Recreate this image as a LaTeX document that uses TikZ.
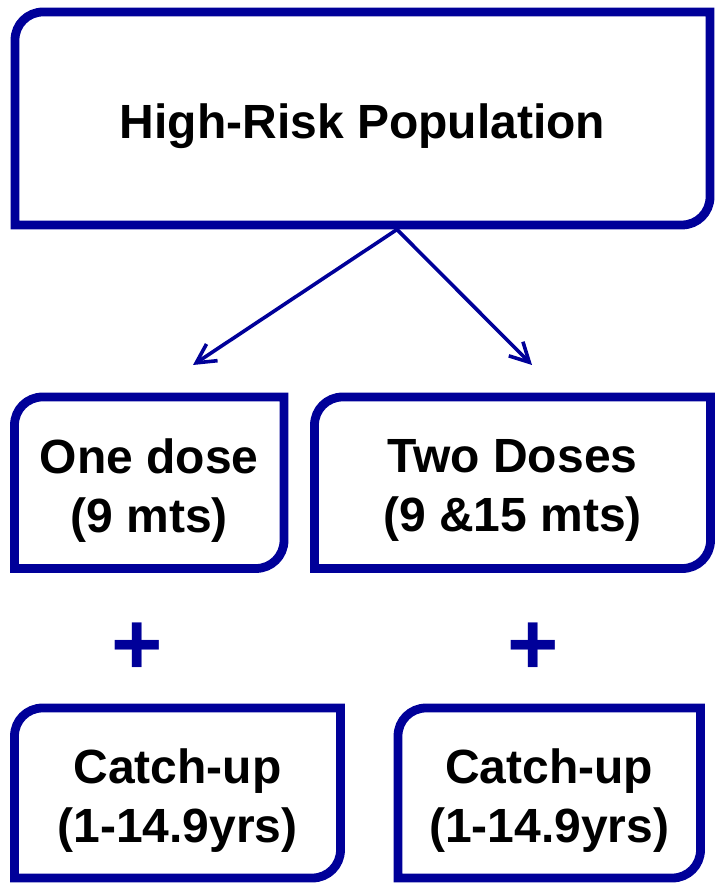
\documentclass[tikz,border=0pt]{standalone}
\usepackage{fontspec}
\setmainfont{Liberation Sans}
\usetikzlibrary{arrows.meta,positioning}
\definecolor{navy}{RGB}{0,0,153}
\newcommand\cornerbox[2]{%
  \draw[boxline] (#1.south west) -- ([yshift=-#2]#1.north west)
    arc[start angle=180,end angle=90,radius=#2] -- (#1.north east)
    -- ([yshift=#2]#1.south east)
    arc[start angle=0,end angle=-90,radius=#2] -- cycle;}
\tikzset{
  frame/.style={draw=none,inner sep=0pt,outer sep=0pt,minimum width=#1},
  boxline/.style={draw=navy,line width=8.8pt,line join=miter},
  lbl/.style={font=\fontsize{48}{59}\selectfont\bfseries,align=center,inner sep=0pt,text=black},
  plussign/.style={font=\fontsize{88}{88}\selectfont\bfseries,text=navy,inner sep=0pt,anchor=base},
  link/.style={draw=navy,line width=3.6pt,-{Straight Barb[length=19pt,width=20pt]}}
}
\begin{document}
\begin{tikzpicture}[x=1pt,y=1pt]
\useasboundingbox (0,0) rectangle (715,883);
% boxes (frames)
\node[frame=695pt,minimum height=213pt] (top) at (362.5,764.5) {};
\node[frame=269.5pt,minimum height=171.5pt] (one) at (149.25,400.25) {};
\node[frame=396pt,minimum height=171.5pt] (two) at (512.5,400.25) {};
\node[frame=326pt,minimum height=170pt] (catchL) at (177.5,90) {};
\node[frame=302.5pt,minimum height=170pt] (catchR) at (549.25,90) {};
\cornerbox{top}{28pt}
\cornerbox{one}{28pt}
\cornerbox{two}{28pt}
\cornerbox{catchL}{28pt}
\cornerbox{catchR}{28pt}
% texts
\node[lbl] (toptxt) at ([yshift=-7.5pt]top.center) {High-Risk Population};
\node[lbl] (onetxt) at ([yshift=-7.5pt]one.center) {One dose\\(9 mts)};
\node[lbl] (twotxt) at ([yshift=-7.5pt]two.center) {Two Doses\\(9 \&15 mts)};
\node[lbl] (cLtxt) at ([yshift=-7.5pt]catchL.center) {Catch-up\\(1-14.9yrs)};
\node[lbl] (cRtxt) at ([yshift=-7.5pt]catchR.center) {Catch-up\\(1-14.9yrs)};
% plus signs
\node[plussign] (plusL) at (137,208.5) {+};
\node[plussign] (plusR) at (533,208.5) {+};
% arrows
\coordinate (src) at (397,653.5);
\coordinate (tipL) at (193,518);
\coordinate (tipR) at (532,518);
\draw[link] (src) -- (tipL);
\draw[link] (src) -- (tipR);
\end{tikzpicture}
\end{document}
